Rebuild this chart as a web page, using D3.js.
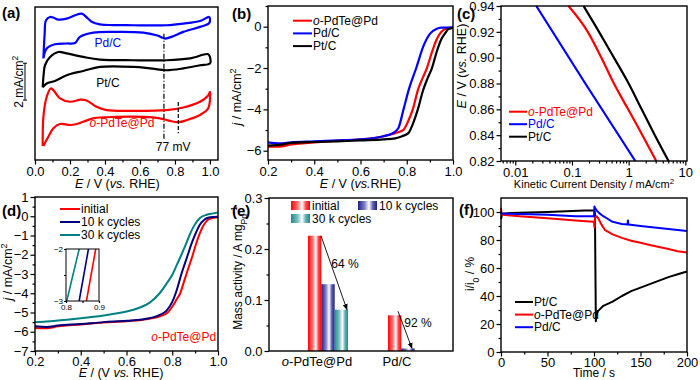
<!DOCTYPE html>
<html>
<head>
<meta charset="utf-8">
<script src="https://cdn.jsdelivr.net/npm/d3@7"></script>
<style>
  body { margin: 0; background: #fff; }
</style>
</head>
<body>
<svg id="drawing_region" width="700" height="380"></svg>
<script>
const FONT = '"Liberation Sans", Arial, Helvetica, sans-serif';
const RED = '#ff0000', BLUE = '#0000ff', BLACK = '#000000', NAVY = '#00007f', TEAL = '#008080';

// (a) cyclic voltammograms, E (V) vs j (mA/cm2, offset for display)
const cvPdC = [[0.048,1.31],[0.055,2.6],[0.063,3.38],[0.086,3.56],[0.11,3.5],[0.133,3.42],[0.181,3.47],[0.23,3.65],[0.267,3.74],[0.30,3.5],[0.324,3.3],[0.371,3.16],[0.45,3.12],[0.562,3.11],[0.65,3.1],[0.752,3.11],[0.848,3.2],[0.943,3.34],[0.995,3.56],[1.0,3.47],[0.995,3.22],[0.943,3.02],[0.848,2.75],[0.78,2.48],[0.74,2.39],[0.70,2.55],[0.619,2.71],[0.467,2.75],[0.333,2.71],[0.257,2.48],[0.229,2.15],[0.181,2.12],[0.114,2.08],[0.067,1.85],[0.048,1.31]];
const cvPtC = [[0.044,-0.26],[0.05,0.5],[0.057,0.94],[0.086,1.39],[0.133,1.66],[0.181,1.58],[0.276,1.39],[0.371,1.25],[0.562,1.21],[0.752,1.21],[0.886,1.31],[0.99,1.54],[1.0,1.39],[1.0,1.04],[0.943,0.94],[0.848,0.77],[0.752,0.67],[0.657,0.77],[0.562,0.85],[0.371,0.85],[0.276,0.63],[0.181,0.40],[0.114,0.09],[0.067,-0.05],[0.044,-0.26]];
const cvPdTe = [[0.044,-3.44],[0.048,-1.86],[0.067,-0.77],[0.09,-0.32],[0.105,-0.41],[0.143,-0.86],[0.2,-1.04],[0.26,-0.93],[0.295,-0.97],[0.352,-1.31],[0.41,-1.49],[0.562,-1.53],[0.752,-1.49],[0.848,-1.35],[0.943,-1.04],[0.99,-0.7],[1.0,-0.5],[1.0,-0.95],[0.99,-1.40],[0.943,-1.76],[0.87,-2.03],[0.82,-2.15],[0.76,-2.05],[0.714,-1.94],[0.619,-1.86],[0.467,-1.86],[0.333,-1.94],[0.238,-2.25],[0.2,-2.30],[0.143,-2.25],[0.105,-2.48],[0.076,-2.94],[0.048,-3.44]];
const cvTicks = [0, 0.2, 0.4, 0.6, 0.8, 1.0];
const cvPeaks = [0.737, 0.819];

// (b) ORR polarisation curves
const lsvPdTe = [[0.2,-5.8],[0.25,-5.8],[0.3,-5.7],[0.4,-5.6],[0.5,-5.52],[0.6,-5.45],[0.65,-5.4],[0.7,-5.3],[0.75,-5.15],[0.786,-4.99],[0.805,-4.6],[0.826,-4.0],[0.85,-3.0],[0.868,-2.5],[0.887,-2.0],[0.91,-1.2],[0.93,-0.6],[0.95,-0.25],[0.97,-0.1],[1.0,-0.06]];
const lsvPdC = [[0.2,-5.6],[0.25,-5.65],[0.3,-5.6],[0.4,-5.55],[0.5,-5.5],[0.6,-5.45],[0.7,-5.3],[0.74,-5.15],[0.764,-4.9],[0.786,-4.0],[0.81,-3.0],[0.841,-2.0],[0.87,-1.0],[0.9,-0.35],[0.93,-0.1],[0.95,-0.05],[1.0,-0.03]];
const lsvPtC = [[0.2,-5.75],[0.25,-5.72],[0.3,-5.62],[0.4,-5.58],[0.5,-5.55],[0.6,-5.5],[0.7,-5.45],[0.75,-5.4],[0.78,-5.3],[0.807,-5.15],[0.83,-4.6],[0.848,-4.0],[0.87,-3.1],[0.89,-2.5],[0.909,-2.0],[0.93,-1.2],[0.95,-0.6],[0.967,-0.3],[0.98,-0.12],[1.0,-0.06]];
const lsvXTicks = [0.2, 0.4, 0.6, 0.8, 1.0];
const lsvYTicks = [0, -2, -4, -6];

// (c) Tafel plots, kinetic current (mA/cm2) vs E (V)
const tafelPdTe = [[0.087,0.94],[0.19,0.92],[0.33,0.90],[0.55,0.88],[0.98,0.86],[1.75,0.84],[3.07,0.82]];
const tafelPdC = [[0.0235,0.94],[0.172,0.88],[1.31,0.82]];
const tafelPtC = [[0.16,0.94],[0.3,0.92],[0.55,0.90],[1.0,0.88],[1.7,0.86],[2.9,0.84],[5.06,0.82]];
const tafelXTicks = [0.01, 0.1, 1, 10];
const tafelYTicks = [0.82, 0.84, 0.86, 0.88, 0.90, 0.92, 0.94];

// (d) durability, o-PdTe@Pd
const adtInitial = [[0.2,-5.8],[0.25,-5.82],[0.3,-5.72],[0.4,-5.62],[0.5,-5.52],[0.6,-5.45],[0.7,-5.32],[0.75,-5.18],[0.78,-5.0],[0.8,-4.7],[0.82,-4.3],[0.835,-4.0],[0.85,-3.45],[0.862,-3.0],[0.876,-2.5],[0.89,-2.0],[0.905,-1.4],[0.92,-0.9],[0.94,-0.4],[0.96,-0.15],[0.98,-0.08],[1.0,-0.05]];
const adt10k = [[0.2,-5.72],[0.25,-5.75],[0.3,-5.68],[0.4,-5.6],[0.5,-5.5],[0.6,-5.43],[0.7,-5.3],[0.75,-5.1],[0.775,-4.9],[0.8,-4.45],[0.815,-4.0],[0.828,-3.5],[0.84,-3.0],[0.854,-2.5],[0.868,-2.0],[0.885,-1.4],[0.9,-0.95],[0.92,-0.45],[0.94,-0.18],[0.96,-0.06],[1.0,-0.02]];
const adt30k = [[0.2,-5.5],[0.25,-5.47],[0.3,-5.42],[0.4,-5.3],[0.5,-5.15],[0.6,-4.95],[0.65,-4.78],[0.7,-4.5],[0.745,-4.0],[0.775,-3.5],[0.802,-3.0],[0.821,-2.5],[0.84,-2.0],[0.858,-1.5],[0.875,-1.0],[0.895,-0.5],[0.92,-0.1],[0.95,0.08],[0.98,0.15],[1.0,0.2]];
const adtYTicks = [1, 0, -1, -2, -3, -4, -5, -6, -7];

// (e) mass activity
const maCategories = ['o-PdTe@Pd', 'Pd/C'];
const maSeries = ['initial', '10 k cycles', '30 k cycles'];
const maInitial = [0.226, 0.070];
const ma10k = [0.131, 0.005];
const ma30k = [0.081, null];
const maLoss = ['64 %', '92 %'];
const maYTicks = [0.0, 0.1, 0.2, 0.3];

// (f) chronoamperometry, i/i0 (%)
const caPtC = [[0,95],[1,98],[3,99],[10,99.2],[30,99.6],[50,100],[70,100.5],[90,101],[100,101],[101,100],[101.5,60],[102,22],[102.5,26],[104,29],[107,31],[110,33],[120,36],[130,40],[140,43.5],[150,46],[160,48.5],[170,51],[180,53.5],[190,55.5],[200,57.5]];
const caPdTe = [[0,103],[0.5,99],[2,98],[20,97],[50,95.5],[80,94],[99,93],[100,93],[100.5,89],[101,96],[103,97],[105,95],[108,91],[112,87],[120,84],[130,81.5],[140,79.5],[150,78],[160,76.5],[170,75],[180,73.5],[190,72],[200,71]];
const caPdC = [[0,100],[1,99],[20,98.5],[50,98],[80,97],[100,97],[100.5,104],[101,103],[103,101],[106,99],[110,97],[115,95],[120,93],[130,91.5],[136,91],[136.5,94],[137,91],[150,90],[170,88.5],[185,87.5],[200,86.5]];
const caXTicks = [0, 50, 100, 150, 200];
const caYTicks = [0, 20, 40, 60, 80, 100];

const svg = d3.select('#drawing_region').attr('font-family', FONT);
const defs = svg.append('defs');

defs.append('marker').attr('id', 'arrow').attr('viewBox', '0 0 10 10')
    .attr('refX', 9).attr('refY', 5).attr('markerWidth', 7).attr('markerHeight', 7)
    .attr('orient', 'auto')
  .append('path').attr('d', 'M0,1L10,5L0,9Z').attr('fill', '#000');

function makePanel(box, x, y) {
    const w = box.right - box.left, h = box.bottom - box.top;
    x.range([0, w]);
    y.range([h, 0]);
    const g = svg.append('g').attr('transform', `translate(${box.left},${box.top})`);
    return { g, w, h, x, y };
}

function frame(p) {
    p.g.append('rect').attr('width', p.w).attr('height', p.h)
        .attr('fill', 'none').attr('stroke', '#000').attr('stroke-width', 1.4);
}

function styleAxis(g, fs) {
    g.select('.domain').remove();
    g.attr('font-family', FONT).attr('font-size', fs || 13);
    g.selectAll('.tick line').attr('stroke-width', 1.2);
    g.selectAll('.tick text').attr('fill', '#000');
}

function xAxis(p, ticks, minor, fmt, pad) {
    if (minor) {
        const gm = p.g.append('g').attr('transform', `translate(0,${p.h})`)
            .call(d3.axisBottom(p.x).tickValues(minor).tickSize(2.5).tickFormat(''));
        styleAxis(gm);
    }
    const gx = p.g.append('g').attr('transform', `translate(0,${p.h})`)
        .call(d3.axisBottom(p.x).tickValues(ticks).tickSize(4.5).tickPadding(pad == null ? 2 : pad).tickFormat(fmt));
    styleAxis(gx);
    return gx;
}

function yAxis(p, ticks, minor, fmt) {
    if (minor) {
        const gm = p.g.append('g')
            .call(d3.axisLeft(p.y).tickValues(minor).tickSize(2.5).tickFormat(''));
        styleAxis(gm);
    }
    const gy = p.g.append('g')
        .call(d3.axisLeft(p.y).tickValues(ticks).tickSize(4.5).tickPadding(2).tickFormat(fmt));
    styleAxis(gy);
    return gy;
}

function curve(p, data, color, width, type) {
    return p.g.append('path').datum(data)
        .attr('fill', 'none').attr('stroke', color).attr('stroke-width', width || 2)
        .attr('stroke-linejoin', 'round')
        .attr('d', d3.line().x(d => p.x(d[0])).y(d => p.y(d[1])).curve(type || d3.curveMonotoneX));
}

// text made of parts: [string, kind] with kind in i / sup / sub
function rich(parent, x, y, parts, opts) {
    opts = opts || {};
    const t = parent.append('text')
        .attr('font-size', opts.size || 12)
        .attr('fill', opts.color || '#000')
        .attr('text-anchor', opts.anchor || 'start');
    if (opts.rotate) t.attr('transform', `translate(${x},${y}) rotate(-90)`);
    else t.attr('x', x).attr('y', y);
    parts.forEach(([s, k]) => {
        const ts = t.append('tspan').text(s);
        if (k === 'i') ts.attr('font-style', 'italic');
        if (k === 'sup') ts.attr('baseline-shift', 'super').attr('font-size', '72%');
        if (k === 'sub') ts.attr('baseline-shift', 'sub').attr('font-size', '72%');
    });
    return t;
}

function legend(p, items, x0, y0, dy, len, colorText) {
    items.forEach((it, i) => {
        const y = y0 + i * dy;
        p.g.append('line').attr('x1', x0).attr('x2', x0 + len).attr('y1', y).attr('y2', y)
            .attr('stroke', it.color).attr('stroke-width', 2);
        rich(p.g, x0 + len + 1, y + 4, it.parts, { size: 12, color: colorText ? it.color : '#000' });
    });
}

function panelTag(x, y, s) {
    svg.append('text').attr('x', x).attr('y', y).attr('font-size', 15)
        .attr('font-weight', 'bold').text(s);
}

const pdTeParts = [['o', 'i'], ['-PdTe@Pd']];
const vsLabel = [['E', 'i'], [' / V ('], ['vs.', 'i'], [' RHE)']];

// ---------- (a)
{
    const p = makePanel({ left: 35, top: 7, right: 218, bottom: 160 },
        d3.scaleLinear().domain([0, 1.046]), d3.scaleLinear().domain([-4.2, 4.1]));
    const loop = d3.curveCatmullRom.alpha(0.5);
    curve(p, cvPdC, BLUE, 2.2, loop);
    curve(p, cvPtC, BLACK, 2.2, loop);
    curve(p, cvPdTe, RED, 2.2, loop);
    p.g.append('line').attr('x1', p.x(cvPeaks[0])).attr('x2', p.x(cvPeaks[0]))
        .attr('y1', p.y(2.65)).attr('y2', p.y(-3.1))
        .attr('stroke', '#000').attr('stroke-width', 1.2).attr('stroke-dasharray', '5,2,1,2');
    p.g.append('line').attr('x1', p.x(cvPeaks[1])).attr('x2', p.x(cvPeaks[1]))
        .attr('y1', p.y(-1.05)).attr('y2', p.y(-2.75))
        .attr('stroke', '#000').attr('stroke-width', 1.2).attr('stroke-dasharray', '4,2');
    rich(p.g, p.x(0.79), p.y(-3.5) + 4, [['77 mV']], { anchor: 'middle', size: 12 });
    rich(p.g, p.x(0.417), p.y(2.13) + 4, [['Pd/C']], { anchor: 'middle', color: BLUE });
    rich(p.g, p.x(0.417), p.y(-0.04) + 4, [['Pt/C']], { anchor: 'middle' });
    rich(p.g, p.x(0.497), p.y(-2.2) + 4, pdTeParts, { anchor: 'middle', color: RED });
    frame(p);
    xAxis(p, cvTicks, [0.1, 0.3, 0.5, 0.7, 0.9], d3.format('.1f'));
    // 2 mA/cm2 scale bar
    const bx = -10, yTop = p.y(1.05), yBot = p.y(-0.95);
    p.g.append('line').attr('x1', bx).attr('x2', bx).attr('y1', yTop).attr('y2', yBot)
        .attr('stroke', '#000').attr('stroke-width', 1);
    [yTop, yBot].forEach(yy => p.g.append('line').attr('x1', bx - 2).attr('x2', bx + 2)
        .attr('y1', yy).attr('y2', yy).attr('stroke', '#000').attr('stroke-width', 1));
    rich(p.g, -12, (yTop + yBot) / 2, [['2 mA/cm'], ['2', 'sup']], { rotate: true, anchor: 'middle', size: 12 });
    rich(p.g, p.w * 0.45, p.h + 28, vsLabel, { anchor: 'middle', size: 12.5 });
}

// ---------- (b)
{
    const p = makePanel({ left: 268, top: 6, right: 453, bottom: 160 },
        d3.scaleLinear().domain([0.2, 1.0]), d3.scaleLinear().domain([-6.45, 1.0]));
    curve(p, lsvPdTe, RED, 2.2);
    curve(p, lsvPdC, BLUE, 2.2);
    curve(p, lsvPtC, BLACK, 2.2);
    frame(p);
    xAxis(p, lsvXTicks, [0.3, 0.5, 0.7, 0.9], d3.format('.1f'));
    yAxis(p, lsvYTicks, [1, -1, -3, -5], d3.format('d'));
    legend(p, [
        { color: RED, parts: pdTeParts },
        { color: BLUE, parts: [['Pd/C']] },
        { color: BLACK, parts: [['Pt/C']] }
    ], 25, 14.7, 12.7, 19, false);
    rich(p.g, -27, 91, [['j', 'i'], [' / mA/cm'], ['2', 'sup']], { rotate: true, anchor: 'middle', size: 12.5 });
    rich(p.g, p.w * 0.5, p.h + 28, [['E', 'i'], [' / V ('], ['vs.', 'i'], ['RHE)']], { anchor: 'middle', size: 12.5 });
}

// ---------- (c)
{
    const p = makePanel({ left: 501, top: 6, right: 687, bottom: 161 },
        d3.scaleLog().domain([0.0056, 10.7]), d3.scaleLinear().domain([0.82, 0.94]));
    curve(p, tafelPdTe, RED, 2.2);
    curve(p, tafelPdC, BLUE, 2.2);
    curve(p, tafelPtC, BLACK, 2.2);
    frame(p);
    const minor = [];
    [0.001, 0.01, 0.1, 1].forEach(dec => d3.range(2, 10).forEach(k => {
        const v = dec * k;
        if (v > 0.0056 && v < 10.7) minor.push(v);
    }));
    xAxis(p, tafelXTicks, minor, d3.format('~g'));
    yAxis(p, tafelYTicks, [0.83, 0.85, 0.87, 0.89, 0.91, 0.93], d3.format('.2f'));
    legend(p, [
        { color: RED, parts: pdTeParts },
        { color: BLUE, parts: [['Pd/C']] },
        { color: BLACK, parts: [['Pt/C']] }
    ], 8, 105.7, 12.5, 18, true);
    rich(p.g, -35, 60, [['E', 'i'], [' / V ('], ['vs.', 'i'], [' RHE)']], { rotate: true, anchor: 'middle', size: 12.5 });
    rich(p.g, p.w * 0.5, p.h + 27, [['Kinetic Current Density / mA/cm'], ['2', 'sup']], { anchor: 'middle', size: 11 });
}

// ---------- (d)
{
    const p = makePanel({ left: 35, top: 197, right: 218, bottom: 351 },
        d3.scaleLinear().domain([0.2, 1.0]), d3.scaleLinear().domain([-7, 1]));
    curve(p, adtInitial, RED, 2);
    curve(p, adt10k, NAVY, 2);
    curve(p, adt30k, TEAL, 2);
    frame(p);
    xAxis(p, lsvXTicks, [0.3, 0.5, 0.7, 0.9], d3.format('.1f'), 1);
    yAxis(p, adtYTicks, d3.range(-6.5, 1, 1), d3.format('d'));
    legend(p, [
        { color: RED, parts: [['initial']] },
        { color: NAVY, parts: [['10 k cycles']] },
        { color: TEAL, parts: [['30 k cycles']] }
    ], 25, 12, 13, 20, false);
    rich(p.g, p.x(0.85), p.h - 10, pdTeParts, { anchor: 'middle', color: RED, size: 12 });
    rich(p.g, -23, 75, [['j', 'i'], [' / mA/cm'], ['2', 'sup']], { rotate: true, anchor: 'middle', size: 12.5 });
    rich(p.g, p.w * 0.47, p.h + 26, [['E', 'i'], [' / (V '], ['vs.', 'i'], [' RHE)']], { anchor: 'middle', size: 12.5 });

    // inset zoom of the half-wave region
    const ix = d3.scaleLinear().domain([0.8, 0.9]).range([0, 33]);
    const iy = d3.scaleLinear().domain([-3, -2]).range([52, 0]);
    const ig = p.g.append('g').attr('transform', 'translate(31,52)');
    defs.append('clipPath').attr('id', 'inset-clip')
        .append('rect').attr('width', 33).attr('height', 52);
    const inset = ig.append('g').attr('clip-path', 'url(#inset-clip)');
    [[adt30k, TEAL], [adt10k, NAVY], [adtInitial, RED]].forEach(([d, c]) => {
        inset.append('path').datum(d).attr('fill', 'none').attr('stroke', c).attr('stroke-width', 1.6)
            .attr('d', d3.line().x(v => ix(v[0])).y(v => iy(v[1])).curve(d3.curveMonotoneX));
    });
    ig.append('rect').attr('width', 33).attr('height', 52).attr('fill', 'none')
        .attr('stroke', '#000').attr('stroke-width', 1);
    const iax = ig.append('g').attr('transform', 'translate(0,52)')
        .call(d3.axisBottom(ix).tickValues([0.8, 0.85, 0.9]).tickSize(2).tickPadding(1)
            .tickFormat(v => v === 0.85 ? '' : d3.format('.1f')(v)));
    styleAxis(iax, 8);
    const iay = ig.append('g')
        .call(d3.axisLeft(iy).tickValues([-3, -2.5, -2]).tickSize(2).tickPadding(1)
            .tickFormat(v => v === -2.5 ? '' : d3.format('d')(v)));
    styleAxis(iay, 8);
}

// ---------- (e)
{
    const p = makePanel({ left: 269, top: 198, right: 453, bottom: 351 },
        d3.scalePoint().domain(maCategories), d3.scaleLinear().domain([0, 0.3]));
    p.x.range([48, 128]);
    const colors = [RED, '#1c1c8c', '#1e8c8c'];
    const values = [maInitial, ma10k, ma30k];
    const inner = d3.scaleBand().domain(maSeries).range([-9, 31]);

    colors.forEach((c, i) => {
        const gr = defs.append('linearGradient').attr('id', 'bar' + i)
            .attr('x1', '0%').attr('x2', '100%').attr('y1', '0%').attr('y2', '0%');
        [[0, c], [0.35, d3.interpolateRgb(c, '#fff')(0.45)], [0.58, '#ffffff'],
         [0.78, d3.interpolateRgb(c, '#fff')(0.3)], [1, c]].forEach(([o, col]) =>
            gr.append('stop').attr('offset', o).attr('stop-color', col));
    });

    maSeries.forEach((s, i) => {
        maCategories.forEach((cat, j) => {
            const v = values[i][j];
            if (v == null) return;
            p.g.append('rect')
                .attr('x', p.x(cat) + inner(s)).attr('width', inner.bandwidth())
                .attr('y', p.y(v)).attr('height', p.y(0) - p.y(v))
                .attr('fill', `url(#bar${i})`);
        });
    });

    // loss arrows
    const c0 = p.x(maCategories[0]), c1 = p.x(maCategories[1]);
    p.g.append('line').attr('x1', c0 + 4).attr('y1', p.y(maInitial[0]))
        .attr('x2', c0 + 30).attr('y2', p.y(ma30k[0]))
        .attr('stroke', '#000').attr('stroke-width', 0.9).attr('marker-end', 'url(#arrow)');
    p.g.append('line').attr('x1', c1 + 1).attr('y1', p.y(0.078))
        .attr('x2', c1 + 15).attr('y2', p.y(ma10k[1]))
        .attr('stroke', '#000').attr('stroke-width', 0.9).attr('marker-end', 'url(#arrow)');
    rich(p.g, c0 + 28, p.y(0.171) + 4, [[maLoss[0]]], { anchor: 'middle', size: 12 });
    rich(p.g, c1 + 21, p.y(0.055) + 4, [[maLoss[1]]], { anchor: 'middle', size: 12 });

    frame(p);
    yAxis(p, maYTicks, [0.05, 0.15, 0.25], d3.format('.1f'));
    rich(p.g, c0, p.h + 15, pdTeParts, { anchor: 'middle', size: 13 });
    rich(p.g, c1, p.h + 15, [['Pd/C']], { anchor: 'middle', size: 13 });

    // legend
    const lg = [[22, 3], [89, 3], [22, 16]];
    maSeries.forEach((s, i) => {
        p.g.append('rect').attr('x', lg[i][0]).attr('y', lg[i][1]).attr('width', 19).attr('height', 9)
            .attr('fill', `url(#bar${i})`);
        rich(p.g, lg[i][0] + 21, lg[i][1] + 9, [[s]], { size: 12 });
    });
    rich(p.g, -27, 70, [['Mass activity / A mg'], ['Pd', 'sub'], ['-1', 'sup']], { rotate: true, anchor: 'middle', size: 12 });
}

// ---------- (f)
{
    const p = makePanel({ left: 501, top: 198, right: 687, bottom: 352 },
        d3.scaleLinear().domain([0, 200]), d3.scaleLinear().domain([0, 110]));
    curve(p, caPtC, BLACK, 2, d3.curveLinear);
    curve(p, caPdTe, RED, 2, d3.curveLinear);
    curve(p, caPdC, BLUE, 2, d3.curveLinear);
    frame(p);
    xAxis(p, caXTicks, [25, 75, 125, 175], d3.format('d'), 1);
    yAxis(p, caYTicks, [10, 30, 50, 70, 90], d3.format('d'));
    legend(p, [
        { color: BLACK, parts: [['Pt/C']] },
        { color: RED, parts: pdTeParts },
        { color: BLUE, parts: [['Pd/C']] }
    ], 14, 104, 12.6, 18, false);
    rich(p.g, -27, 76, [['i/i'], ['0', 'sub'], [' / %']], { rotate: true, anchor: 'middle', size: 12 });
    rich(p.g, p.w * 0.5, p.h + 25, [['Time / s']], { anchor: 'middle', size: 12 });
}

panelTag(2, 18, '(a)');
panelTag(232, 19, '(b)');
panelTag(457, 19, '(c)');
panelTag(2, 216, '(d)');
panelTag(232, 216, '(e)');
panelTag(459, 215, '(f)');
</script>
</body>
</html>
